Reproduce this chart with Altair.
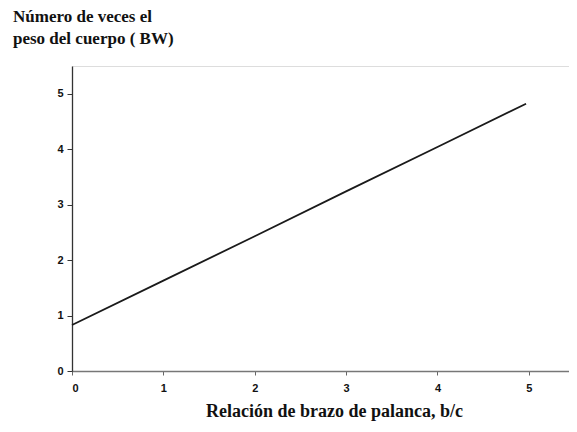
import altair as alt
import pandas as pd

# data
ratio = [0.0, 1.0, 2.0, 3.0, 4.0, 4.97]
bw = [0.83, 1.63, 2.43, 3.24, 4.04, 4.82]
x_ticks = [0, 1, 2, 3, 4, 5]
y_ticks = [0, 1, 2, 3, 4, 5]

df = pd.DataFrame({"ratio": ratio, "bw": bw})

serif = "Liberation Serif"
sans = "Liberation Sans"

chart = (
    alt.Chart(df)
    .mark_line(color="#1a1a1a", strokeWidth=1.8)
    .encode(
        x=alt.X(
            "ratio:Q",
            scale=alt.Scale(domain=[0, 5.44], nice=False, zero=True),
            axis=alt.Axis(
                values=x_ticks,
                format="d",
                title="Relación de brazo de palanca, b/c",
                titleFont=serif,
                titleFontSize=18,
                titleFontWeight="bold",
                titleColor="#111111",
                titleX=262,
                titleY=45,
                titleBaseline="alphabetic",
                labelFont=sans,
                labelFontSize=11,
                labelFontWeight="bold",
                labelColor="#111111",
                labelPadding=7,
                tickSize=4,
                tickColor="#666666",
                domainColor="#777777",
                domainWidth=1.3,
                grid=False,
            ),
        ),
        y=alt.Y(
            "bw:Q",
            scale=alt.Scale(domain=[0, 5.5], nice=False, zero=True),
            axis=alt.Axis(
                values=y_ticks,
                format="d",
                title=None,
                labelFont=sans,
                labelFontSize=11,
                labelFontWeight="bold",
                labelColor="#111111",
                labelPadding=4,
                tickSize=5,
                tickColor="#333333",
                domainColor="#333333",
                domainWidth=1.3,
                grid=False,
            ),
        ),
    )
    .properties(
        width=497,
        height=305,
        autosize=alt.AutoSizeParams(type="none"),
        padding={"left": 64, "top": 58, "right": 0, "bottom": 50},
        title=alt.TitleParams(
            text=["Número de veces el", "peso del cuerpo ( BW)"],
            anchor="start",
            frame="group",
            dx=-59,
            offset=18,
            font=serif,
            fontSize=17,
            fontWeight="bold",
            color="#111111",
            lineHeight=22,
        ),
    )
    .configure_view(strokeWidth=0, strokeOpacity=0, stroke="white")
    .configure(background="white")
)

chart.save("out.html", embed_options={"renderer": "svg", "actions": False})
